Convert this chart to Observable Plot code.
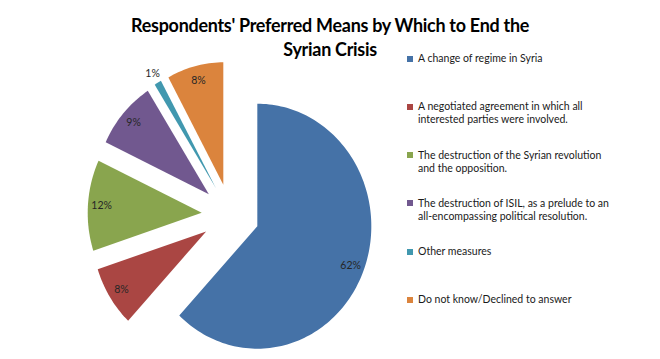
<!DOCTYPE html>
<html>
<head>
<meta charset="utf-8">
<script src="https://cdn.jsdelivr.net/npm/d3@7"></script>
<script src="https://cdn.jsdelivr.net/npm/@observablehq/plot@0.6"></script>
<style>
  html, body { margin: 0; padding: 0; background: #fff; }
  #wrap { position: relative; width: 660px; height: 359px; overflow: hidden; font-family: Lato, "Open Sans", sans-serif; }
  #chart { position: absolute; left: 0; top: 0; }
  #title { position: absolute; left: 0; top: 13px; width: 660px; text-align: center; font-weight: bold; font-size: 19.5px; line-height: 24px; color: #000; letter-spacing: -0.3px; transform: scaleX(0.92); transform-origin: 331px 0; }
  #legend { position: absolute; left: 407px; top: 52px; width: 250px; }
  .item { height: 48.3px; display: flex; align-items: flex-start; font-size: 10.5px; line-height: 13px; color: #1a1a1a; }
  .sw { width: 6px; height: 6px; margin-top: 3.5px; margin-right: 5px; flex: none; }
</style>
</head>
<body>
<div id="wrap">
  <div id="chart"></div>
  <div id="title">Respondents' Preferred Means by Which to End the<br>Syrian Crisis</div>
  <div id="legend"></div>
</div>
<script>
const categories = [
  "A change of regime in Syria",
  "A negotiated agreement in which all interested parties were involved.",
  "The destruction of the Syrian revolution and the opposition.",
  "The destruction of ISIL, as a prelude to an all-encompassing political resolution.",
  "Other measures",
  "Do not know/Declined to answer"
];
const legendLines = [
  ["A change of regime in Syria"],
  ["A negotiated agreement in which all", "interested parties were involved."],
  ["The destruction of the Syrian revolution", "and the opposition."],
  ["The destruction of ISIL, as a prelude to an", "all-encompassing political resolution."],
  ["Other measures"],
  ["Do not know/Declined to answer"]
];
const values = [62, 8, 12, 9, 1, 8];
const colors = ["#4572A7", "#AA4643", "#89A54E", "#71588F", "#4198AF", "#DB843D"];

// layout (pixels): pie centre, horizontal / vertical radius, explosion
const W = 660, H = 359;
const cx = 230, cy = 214.3, rx = 114, ry = 122.5;
const explode = 0.253;

const total = d3.sum(values);
let acc = 0;
const slices = values.map((v, i) => {
  const a0 = acc / total * 2 * Math.PI;
  acc += v;
  const a1 = acc / total * 2 * Math.PI;
  const mid = (a0 + a1) / 2;
  const ox = explode * Math.sin(mid), oy = explode * Math.cos(mid);
  const n = Math.max(2, Math.ceil((a1 - a0) / (2 * Math.PI) * 240));
  const pts = [{x: ox, y: oy}];
  for (let k = 0; k <= n; k++) {
    const a = a0 + (a1 - a0) * k / n;
    pts.push({x: ox + Math.sin(a), y: oy + Math.cos(a)});
  }
  pts.push({x: ox, y: oy});
  const lr = v / total < 0.02 ? 1.09 : 0.88;
  return {cat: categories[i], color: colors[i], pts,
          label: {x: ox + lr * Math.sin(mid), y: oy + lr * Math.cos(mid), text: v + "%"}};
});

const chart = Plot.plot({
  width: W, height: H, margin: 0,
  x: {domain: [-cx / rx, (W - cx) / rx], axis: null},
  y: {domain: [-(H - cy) / ry, cy / ry], axis: null},
  marks: [
    ...slices.map(s => Plot.line(s.pts, {x: "x", y: "y", fill: s.color, stroke: "none", curve: "linear"})),
    Plot.text(slices.map(s => s.label), {x: "x", y: "y", text: "text", fontSize: 10.5, fill: "#262626", fontFamily: "Lato, sans-serif"})
  ]
});
document.getElementById("chart").appendChild(chart);

const legend = document.getElementById("legend");
legendLines.forEach((lines, i) => {
  const item = document.createElement("div");
  item.className = "item";
  const sw = document.createElement("div");
  sw.className = "sw";
  sw.style.background = colors[i];
  const t = document.createElement("div");
  t.innerHTML = lines.join("<br>");
  item.appendChild(sw);
  item.appendChild(t);
  legend.appendChild(item);
});
</script>
</body>
</html>
